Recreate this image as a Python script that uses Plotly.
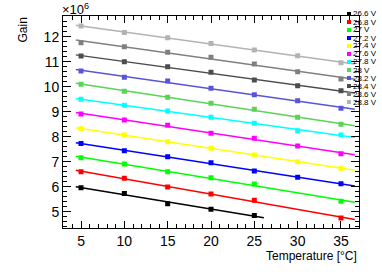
import numpy as np
import plotly.graph_objects as go

temps = [5, 10, 15, 20, 25, 30, 35]
labels = ["26.6 V", "26.8 V", "27 V", "27.2 V", "27.4 V", "27.6 V",
          "27.8 V", "28 V", "28.2 V", "28.4 V", "28.6 V", "28.8 V"]
colors = ["#000000", "#ff0000", "#00ff00", "#0000ff", "#ffff00", "#ff00ff",
          "#00ffff", "#59d454", "#5954d8", "#4d4d4d", "#808080", "#b3b3b3"]

# gain values in units of 1e6 (None = no measurement)
g_26_6 = [5.96, 5.73, 5.32, 5.10, 4.85, None, None]
g_26_8 = [6.60, 6.34, 5.99, 5.71, 5.46, None, 4.75]
g_27_0 = [7.16, 6.91, 6.60, 6.36, 6.11, None, 5.42]
g_27_2 = [7.73, 7.44, 7.20, 6.96, 6.63, 6.38, 6.12]
g_27_4 = [8.32, 8.07, 7.80, 7.54, 7.27, 7.00, 6.74]
g_27_6 = [8.91, 8.67, 8.46, 8.14, 7.94, 7.63, 7.32]
g_27_8 = [9.50, 9.26, 9.03, 8.78, 8.54, 8.24, 8.07]
g_28_0 = [10.10, 9.82, 9.58, 9.34, 9.10, 8.78, 8.50]
g_28_2 = [10.63, 10.38, 10.23, 9.94, 9.68, 9.44, 9.14]
g_28_4 = [11.23, 11.00, 10.80, 10.58, 10.27, 10.04, 9.84]
g_28_6 = [11.76, 11.60, 11.38, 11.18, 10.91, 10.60, 10.31]
g_28_8 = [12.43, 12.17, 11.96, 11.73, 11.47, 11.24, 10.96]
series = [g_26_6, g_26_8, g_27_0, g_27_2, g_27_4, g_27_6,
          g_27_8, g_28_0, g_28_2, g_28_4, g_28_6, g_28_8]

fit_lo = 4.4
fit_hi = [26.1] + [36.6] * 11

W, H = 382, 275
ML, MR, MT, MB = 63, 23, 16, 47
PW, PH = W - ML - MR, H - MT - MB


def px(xp):
    return (xp - ML) / PW


def py(yp):
    return (H - MB - yp) / PH


fig = go.Figure()
for i, (vals, col) in enumerate(zip(series, colors)):
    xs = [t for t, v in zip(temps, vals) if v is not None]
    ys = [v for v in vals if v is not None]
    k, b = np.polyfit(xs, ys, 1)
    lx = [fit_lo, fit_hi[i]]
    fig.add_trace(go.Scatter(x=lx, y=[k * x + b for x in lx], mode="lines",
                             line=dict(color=col, width=1.5), showlegend=False,
                             hoverinfo="skip"))
    fig.add_trace(go.Scatter(x=xs, y=ys, mode="markers",
                             marker=dict(symbol="square", size=5, color=col),
                             showlegend=False))

# legend: small colour squares + text
for i, (lab, col) in enumerate(zip(labels, colors)):
    yc = 14 + 8 * i
    fig.add_shape(type="rect", xref="paper", yref="paper",
                  x0=px(347), x1=px(351), y0=py(yc + 2), y1=py(yc - 2),
                  fillcolor=col, line=dict(width=0))
    fig.add_annotation(xref="paper", yref="paper", x=px(352), y=py(yc),
                       xanchor="left", yanchor="middle", showarrow=False,
                       text=lab, borderpad=0,
                       font=dict(size=8, color="#000000", family="Liberation Sans"))

fig.add_annotation(xref="paper", yref="paper", x=0, y=1.0, xanchor="left", yanchor="bottom",
                   showarrow=False, text="×10<sup>6</sup>",
                   font=dict(size=13, color="#000000"), yshift=-3, xshift=-3)
fig.add_annotation(xref="paper", yref="paper", x=px(22), y=py(16), xanchor="center",
                   yanchor="top", showarrow=False, text="Gain", textangle=-90,
                   font=dict(size=12, color="#000000"))
fig.add_annotation(xref="paper", yref="paper", x=px(359), y=py(256), xanchor="right",
                   yanchor="middle", showarrow=False, text="Temperature [°C]",
                   font=dict(size=12, color="#000000"))

axis_common = dict(showgrid=False, zeroline=False, showline=True, linecolor="#000000",
                   linewidth=1, mirror="allticks", ticks="inside", tickcolor="#000000",
                   tickfont=dict(size=14, color="#000000"))
fig.update_xaxes(range=[2.92, 37.08], tickvals=[5, 10, 15, 20, 25, 30, 35], ticklen=7,
                 minor=dict(dtick=1, ticks="inside", ticklen=4, tickcolor="#000000"),
                 **axis_common)
fig.update_yaxes(range=[4.35, 12.83], dtick=1, ticklen=8,
                 minor=dict(dtick=0.2, ticks="inside", ticklen=4, tickcolor="#000000"),
                 **axis_common)
fig.update_layout(width=W, height=H, margin=dict(l=ML, r=MR, t=MT, b=MB),
                  plot_bgcolor="white", paper_bgcolor="white",
                  font=dict(family="Liberation Sans", color="#000000"),
                  showlegend=False)
fig.write_html("out.html", config={"displayModeBar": False},
               post_script="document.body.style.margin='0';")
